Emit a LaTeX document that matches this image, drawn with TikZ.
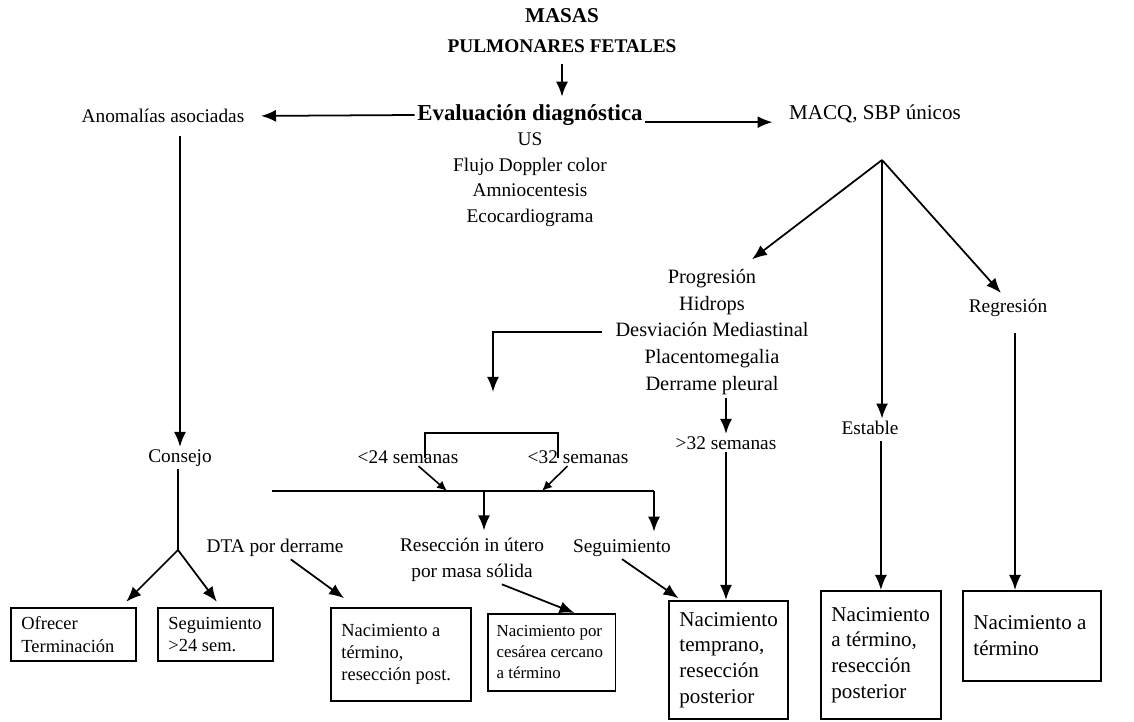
\documentclass[tikz,border=0pt]{standalone}
\usepackage{fontspec}
\setmainfont{Liberation Serif}
\usetikzlibrary{positioning,arrows.meta,calc}

\tikzstyle{txt}=[%
      inner sep=1pt, align=center, font=\fontsize{11}{14.7}\selectfont
]
\tikzstyle{hd}=[%
      txt, font=\fontsize{11}{15}\selectfont\bfseries
]
\tikzstyle{sbox}=[%
      rectangle, draw=black, line width=1pt, anchor=north west, align=flush left,
      inner xsep=6pt, inner ysep=2pt, font=\fontsize{10.5}{12.8}\selectfont
]
\tikzstyle{lbox}=[%
      sbox, font=\fontsize{12}{14.6}\selectfont
]
\tikzstyle{arr}=[%
      -{Latex[length=3mm,width=2.4mm]}, line width=1pt
]
\tikzstyle{sarr}=[%
      -{Latex[length=2mm,width=1.8mm]}, line width=0.9pt
]

\begin{document}
\begin{tikzpicture}[x=0.02cm, y=-0.02cm, line width=1pt]
    \useasboundingbox (0,0) rectangle (1134,722);

    % top
    \node[hd, font=\fontsize{12}{15}\selectfont\bfseries] (masas) at (562,16) {MASAS};
    \node[hd] (pulm)  at (562,46) {PULMONARES FETALES};
    \node[hd, font=\fontsize{13}{15}\selectfont\bfseries] (evt) at (530,115) {Evaluación diagnóstica};
    \node[txt, below=1pt of evt] (evl) {US\\Flujo Doppler color\\Amniocentesis\\Ecocardiograma};
    \node[txt] (anom) at (163,116) {Anomalías asociadas};
    \node[txt, font=\fontsize{12}{15}\selectfont] (macq) at (875,114) {MACQ, SBP únicos};

    % middle
    \node[txt, font=\fontsize{11.6}{15.3}\selectfont] (prog) at (712,332)
        {Progresión\\Hidrops\\Desviación Mediastinal\\Placentomegalia\\Derrame pleural};
    \node[txt] (est)  at (870,428) {Estable};
    \node[txt] (regr) at (1008,308) {Regresión};
    \node[txt] (cons) at (180,458) {Consejo};
    \node[txt] (s24)  at (408,457) {<24 semanas};
    \node[txt] (s32w) at (578,457) {<32 semanas};
    \node[txt] (s32)  at (726,443) {>32 semanas};
    \node[txt] (dta)  at (275,548) {DTA por derrame};
    \node[txt] (resec) at (472,560) {Resección in útero\\por masa sólida};
    \node[txt] (segm) at (622,548) {Seguimiento};

    % boxes
    \node[sbox, text width=2.08cm, minimum height=1.06cm] (ofr) at (10,607) {Ofrecer\\Terminación};
    \node[sbox, text width=1.88cm, minimum height=1.06cm] (seg24) at (157,607) {Seguimiento\\>24 sem.};
    \node[sbox, text width=2.38cm, minimum height=1.86cm] (post) at (330,607) {Nacimiento a\\término,\\resección post.};
    \node[sbox, text width=2.2cm, inner xsep=5pt, minimum height=1.54cm, font=\fontsize{9.6}{12}\selectfont] (ces) at (487,613) {Nacimiento por\\cesárea cercano\\a término};
    \node[lbox, text width=1.96cm, minimum height=2.36cm] (temp) at (668,600) {Nacimiento\\temprano,\\resección\\posterior};
    \node[lbox, text width=1.98cm, minimum height=2.56cm] (term) at (820,590) {Nacimiento\\a término,\\resección\\posterior};
    \node[lbox, text width=2.34cm, minimum height=1.8cm] (ater) at (962,590) {Nacimiento a\\término};

    \coordinate (mq) at (882,160);
    \coordinate (cj) at (178,550);
    \coordinate (elb) at (493,392);
    \coordinate (brL) at (425,458);
    \coordinate (brR) at (558,458);
    \coordinate (barL) at (272,491);
    \coordinate (barR) at (654,491);
    \coordinate (barM) at (484,491);
    \coordinate (bar24) at (447,491);
    \coordinate (bar32) at (542,491);

    % connectors
    \draw[arr] (pulm.south) ++(0,-5pt) -- ([yshift=3pt]evt.north -| pulm);
    \draw[arr, shorten >=8pt] (evt.west) -- (anom.east);
    \draw[arr, shorten >=8pt] ([yshift=-1pt]evt.base east) -- ([yshift=-1pt]evt.base east -| macq.west);
    \draw[arr] (mq) -- ([xshift=0.8cm, yshift=4pt]prog.north);
    \draw[arr] (mq) -- (mq |- est.north);
    \draw[arr] (mq) -- ([xshift=-4pt, yshift=2pt]regr.north);
    \draw[arr] (cons |- anom.south) ++(0,-6pt) -- (cons.north);
    \draw (cons.south -| cj) -- (cj);
    \draw[arr] (cj) -- ([xshift=-6pt, yshift=3pt]ofr.north east);
    \draw[arr] (cj) -- ([xshift=-1.14cm, yshift=3pt]seg24.north east);
    \draw[arr] (prog.south -| s32) -- (s32.north);
    \draw[arr] (s32.south) -- (s32.south |- temp.north);
    \draw[arr] ([yshift=-2pt]est.south -| term.north) -- (term.north);
    \draw[arr] ([xshift=4pt, yshift=-8pt]regr.south) -- ([xshift=4pt]regr.south |- ater.north);
    \draw[arr] ([xshift=-6pt]prog.west) -| (elb);
    \draw (brL) -- ++(0,-25) -| (brR);
    \draw (barL) -- (barR);
    \draw[sarr] ([xshift=6pt]s24.south) -- (bar24);
    \draw[sarr] ([xshift=-6pt]s32w.south) -- (bar32);
    \draw[arr, shorten >=3pt] (barM) -- (barM |- resec.north);
    \draw[arr, shorten >=3pt] (barR) -- (barR |- segm.north);
    \draw[arr] ([xshift=9pt]dta.south) -- ([xshift=8pt, yshift=5pt]post.north west);
    \draw[arr] ([xshift=17pt]resec.south) -- ([xshift=13pt]ces.north);
    \draw[arr] (segm.south) -- ([xshift=6pt, yshift=1pt]temp.north west);

\end{tikzpicture}
\end{document}
